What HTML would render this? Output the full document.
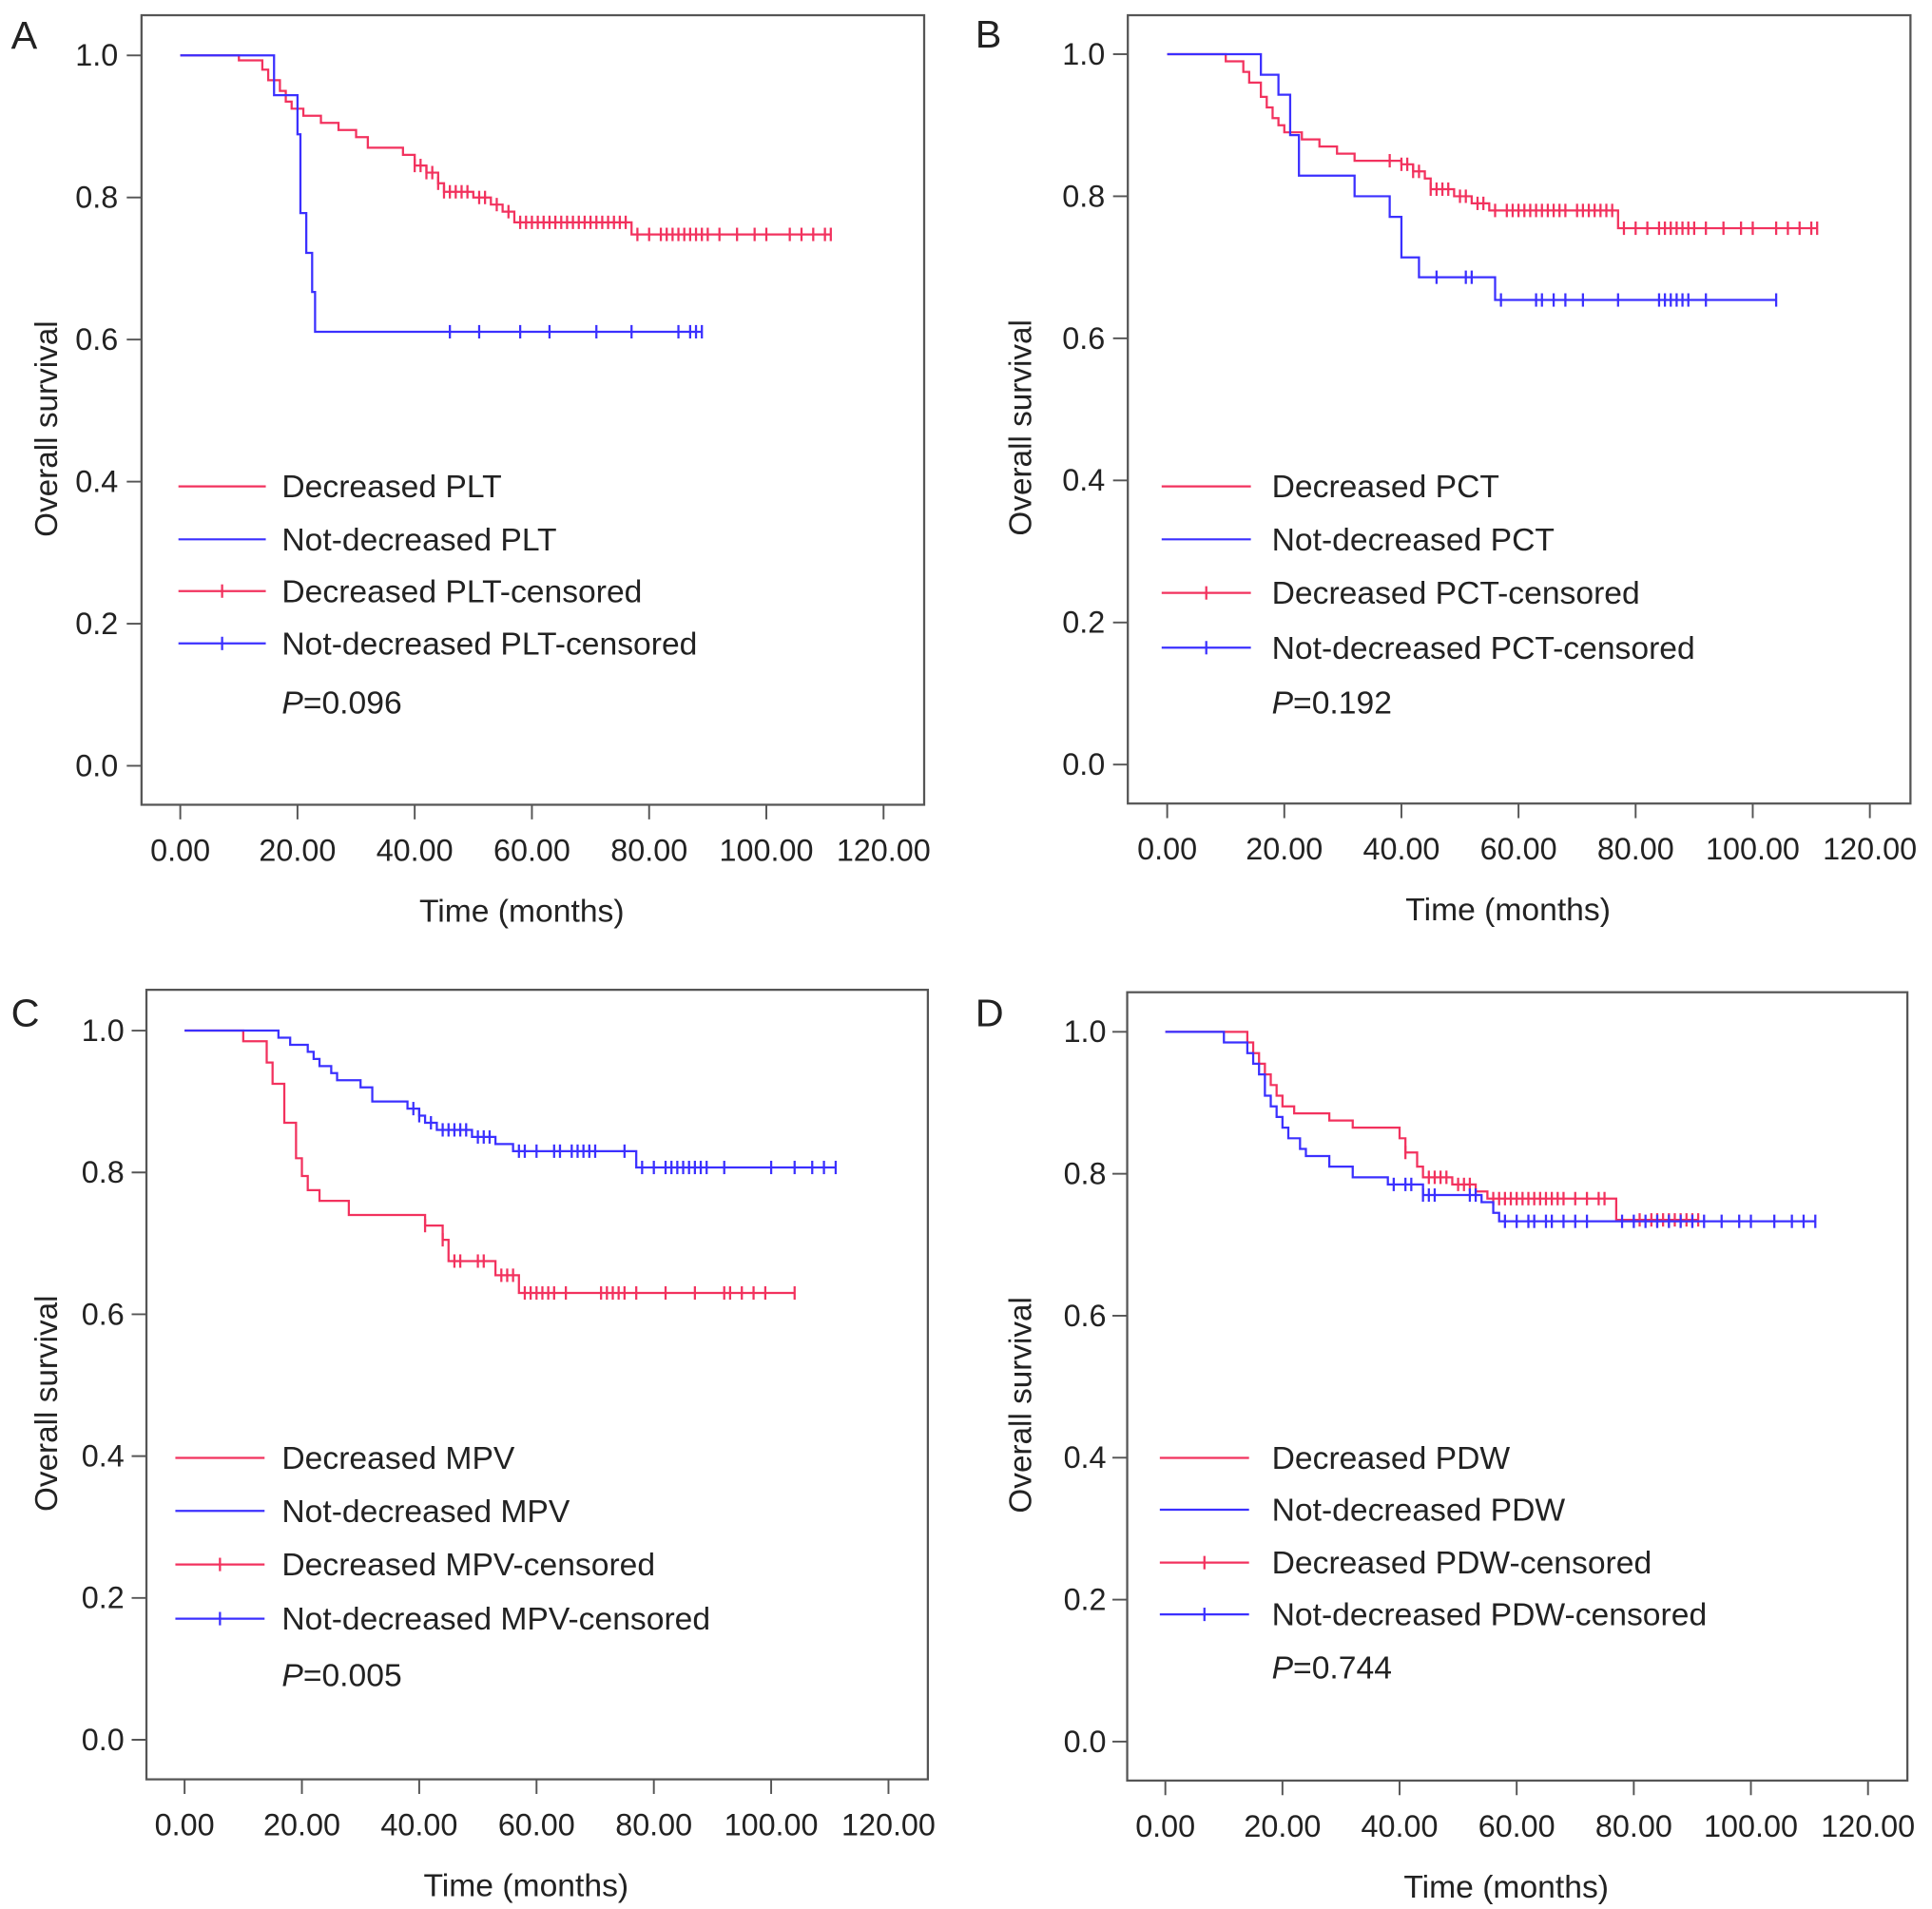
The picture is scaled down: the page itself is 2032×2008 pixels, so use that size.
<!DOCTYPE html>
<html><head><meta charset="utf-8"><style>
html,body{margin:0;padding:0;background:#fff;}
body{width:2032px;height:2008px;position:relative;overflow:hidden;font-family:"Liberation Sans",Arial,sans-serif;}
svg{position:absolute;}
</style></head><body>
<svg id="pA" style="left:0;top:0" width="1016" height="1004" viewBox="0 0 1570 1568" preserveAspectRatio="none"></svg>
<svg id="pB" style="left:1016px;top:0" width="1016" height="1004" viewBox="0 0 1570 1568" preserveAspectRatio="none"></svg>
<svg id="pC" style="left:0;top:1004px" width="1016" height="1004" viewBox="0 0 1570 1568" preserveAspectRatio="none"></svg>
<svg id="pD" style="left:1016px;top:1004px" width="1016" height="1004" viewBox="0 0 1570 1568" preserveAspectRatio="none"></svg>
<script>
const xTicks = [0,20,40,60,80,100,120];
const xTickLabels = ["0.00","20.00","40.00","60.00","80.00","100.00","120.00"];
const yTicks = [0,0.2,0.4,0.6,0.8,1.0];
const yTickLabels = ["0.0","0.2","0.4","0.6","0.8","1.0"];

// Panel A (PLT)
const aRedT = [10,14,15,17,18,19,21,24,27,30,32,38,40,42,44,45,50,53,55,57,77];
const aRedS = [0.993,0.98,0.965,0.95,0.935,0.925,0.915,0.905,0.895,0.885,0.87,0.86,0.845,0.835,0.82,0.808,0.80,0.79,0.78,0.765,0.748];
const aRedC = [40,41,42,43,44,45,46,47,48,49,51,52,54,56,58,59,60,61,62,63,64,65,66,67,68,69,70,71,72,73,74,75,76,78,80,82,83,84,85,86,87,88,89,90,92,95,98,100,104,106,108,110,111];
const aBlueT = [16,20,20.5,21.5,22.5,23];
const aBlueS = [0.944,0.889,0.778,0.722,0.667,0.611];
const aBlueC = [46,51,58,63,71,77,85,87,88,89];
// Panel B (PCT)
const bRedT = [10,13,14,16,17,18,19,20,23,26,29,32,40,42,44,45,49,52,55,77];
const bRedS = [0.99,0.975,0.96,0.94,0.925,0.91,0.9,0.89,0.88,0.87,0.86,0.85,0.845,0.835,0.825,0.81,0.80,0.79,0.78,0.755];
const bRedC = [38,40,41,42,43,45,46,47,48,50,51,53,54,56,58,59,60,61,62,63,64,65,66,67,68,70,71,72,73,74,75,76,78,80,82,84,85,86,87,88,89,90,92,95,98,100,104,106,108,110,111];
const bBlueT = [16,19,21,22.5,32,38,40,43,56];
const bBlueS = [0.971,0.943,0.886,0.829,0.8,0.771,0.714,0.686,0.654];
const bBlueC = [46,51,52,57,63,64,66,68,71,77,84,85,86,87,88,89,92,104];
// Panel C (MPV)
const cRedT = [10,14,15,17,19,20,21,23,28,41,44,45,53,57];
const cRedS = [0.985,0.955,0.925,0.87,0.82,0.795,0.775,0.76,0.74,0.725,0.705,0.675,0.655,0.63];
const cRedC = [41,44,46,47,50,51,54,55,56,58,59,60,61,62,63,65,71,72,73,74,75,77,82,87,92,93,95,97,99,104];
const cBlueT = [16,18,21,22,23,25,26,30,32,38,40,41,43,49,53,56,77];
const cBlueS = [0.99,0.98,0.97,0.96,0.95,0.94,0.93,0.92,0.90,0.89,0.88,0.87,0.86,0.85,0.84,0.83,0.807];
const cBlueC = [39,40,42,44,45,46,47,48,50,51,52,57,58,60,63,64,66,67,68,69,70,75,78,80,82,83,84,85,86,87,88,89,92,100,104,107,109,111];
// Panel D (PDW)
const dRedT = [14,15,16,17,18,19,20,22,28,32,40,41,43,44,49,53,55,77];
const dRedS = [0.985,0.97,0.955,0.94,0.925,0.91,0.895,0.885,0.875,0.865,0.85,0.83,0.81,0.795,0.785,0.775,0.765,0.735];
const dRedC = [41,45,46,47,48,50,51,52,56,57,58,59,60,61,62,63,64,65,66,67,68,70,72,74,75,81,83,84,85,86,87,88,89,90,91];
const dBlueT = [10,14,15,16,17,18,19,20,21,23,24,28,32,38,44,54,56,57];
const dBlueS = [0.985,0.97,0.955,0.94,0.91,0.895,0.88,0.865,0.85,0.835,0.825,0.81,0.795,0.785,0.77,0.76,0.745,0.733];
const dBlueC = [39,41,42,44,45,46,52,53,58,60,62,63,65,66,68,70,72,78,80,82,84,86,88,90,92,95,98,100,104,107,109,111];

const RED = "#f2325e", BLUE = "#3b30ff", INK = "#222";
const NS = "http://www.w3.org/2000/svg";

const panels = [
 {id:"pA",letter:"A",var:"PLT",p:"0.096",fr:[230,25,1502,1322],x0:293,x120:1436,y1:91,y0:1258,ylab:192,ytitle:75,leg:[290,432,458],rows:[814,901,986,1072,1155],letterPos:[18,80],
  rT:aRedT,rS:aRedS,rC:aRedC,bT:aBlueT,bS:aBlueS,bC:aBlueC},
 {id:"pB",letter:"B",var:"PCT",p:"0.192",fr:[263,25,1535,1320],x0:327,x120:1469,y1:89,y0:1256,ylab:226,ytitle:88,leg:[318,463,497],rows:[814,901,989,1079,1155],letterPos:[15,78],
  rT:bRedT,rS:bRedS,rC:bRedC,bT:bBlueT,bS:bBlueS,bC:bBlueC},
 {id:"pC",letter:"C",var:"MPV",p:"0.005",fr:[238,58,1508,1355],x0:300,x120:1444,y1:125,y0:1290,ylab:202,ytitle:75,leg:[285,430,458],rows:[842,929,1017,1106,1185],letterPos:[18,118],
  rT:cRedT,rS:cRedS,rC:cRedC,bT:cBlueT,bS:cBlueS,bC:cBlueC},
 {id:"pD",letter:"D",var:"PDW",p:"0.744",fr:[262,62,1530,1357],x0:324,x120:1466,y1:127,y0:1293,ylab:228,ytitle:88,leg:[315,460,497],rows:[842,927,1014,1099,1172],letterPos:[15,118],
  rT:dRedT,rS:dRedS,rC:dRedC,bT:dBlueT,bS:dBlueS,bC:dBlueC}
];

function mk(tag, attrs, parent){const e=document.createElementNS(NS,tag);for(const k in attrs)e.setAttribute(k,attrs[k]);parent.appendChild(e);return e;}

function survAt(T,S,t){let s=1;for(let i=0;i<T.length;i++){if(T[i]<=t)s=S[i];}return s;}

panels.forEach(P=>{
  const svg=document.getElementById(P.id);
  const X=v=>P.x0+(P.x120-P.x0)*v/120;
  const Y=v=>P.y0-(P.y0-P.y1)*v;
  const [fl,ft,fr,fb]=P.fr;
  const frame=mk("rect",{x:fl,y:ft,width:fr-fl,height:fb-ft,fill:"none",stroke:"#555","stroke-width":3.5},svg);
  
  
  const lt=mk("text",{x:P.letterPos[0],y:P.letterPos[1],"font-size":64,fill:INK},svg);lt.textContent=P.letter;
  
  
  yTicks.forEach((v,i)=>{
    mk("line",{x1:fl-24,x2:fl,y1:Y(v),y2:Y(v),stroke:"#555","stroke-width":3},svg);
    const t=mk("text",{x:P.ylab,y:Y(v)+17,"text-anchor":"end","font-size":50,fill:INK},svg);t.textContent=yTickLabels[i];
    
    
  });
  xTicks.forEach((v,i)=>{
    mk("line",{x1:X(v),x2:X(v),y1:fb,y2:fb+24,stroke:"#555","stroke-width":3},svg);
    const t=mk("text",{x:X(v),y:fb+92,"text-anchor":"middle","font-size":50,fill:INK},svg);t.textContent=xTickLabels[i];
    
    
  });
  const cy=(Y(1)+Y(0))/2+30;
  const yt=mk("text",{x:P.ytitle+18,y:cy,"text-anchor":"middle","font-size":52,fill:INK,transform:`rotate(-90 ${P.ytitle+18} ${cy})`},svg);
  yt.textContent="Overall survival";
  
  
  const xt=mk("text",{x:(fl+fr)/2-18,y:fb+192,"text-anchor":"middle","font-size":52,fill:INK},svg);
  xt.textContent="Time (months)";
  
  

  function curve(T,S,C,col,name){
    const end=Math.max(T[T.length-1],C.length?C[C.length-1]:0);
    let d=`M${X(0)},${Y(1)}`;
    for(let i=0;i<T.length;i++){d+=` H${X(T[i])} V${Y(S[i])}`;}
    d+=` H${X(end)}`;
    const path=mk("path",{d:d,fill:"none",stroke:col,"stroke-width":3.5},svg);
    
    
    C.forEach(t=>{
      const s=survAt(T,S,t);
      const m=mk("line",{x1:X(t),x2:X(t),y1:Y(s)-11,y2:Y(s)+11,stroke:col,"stroke-width":3.5},svg);
      
      
    });
  }
  curve(P.rT,P.rS,P.rC,RED,'decreased');
  curve(P.bT,P.bS,P.bC,BLUE,'not-decreased');

  const labels=[`Decreased ${P.var}`,`Not-decreased ${P.var}`,`Decreased ${P.var}-censored`,`Not-decreased ${P.var}-censored`];
  const cols=[RED,BLUE,RED,BLUE];
  labels.forEach((lab,i)=>{
    const y=P.rows[i];
    const ln=mk("line",{x1:P.leg[0],x2:P.leg[1],y1:y-15,y2:y-15,stroke:cols[i],"stroke-width":3.5},svg);
    
    
    if(i>=2){mk("line",{x1:(P.leg[0]+P.leg[1])/2,x2:(P.leg[0]+P.leg[1])/2,y1:y-26,y2:y-4,stroke:cols[i],"stroke-width":3.5},svg);}
    const t=mk("text",{x:P.leg[2],y:y+3,"font-size":52,fill:INK},svg);t.textContent=lab;
    
    
  });
  const pt=mk("text",{x:P.leg[2],y:P.rows[4]+17,"font-size":52,fill:INK},svg);
  pt.innerHTML=`<tspan font-style="italic">P</tspan>=${P.p}`;
  
  
});
</script>
</body></html>
